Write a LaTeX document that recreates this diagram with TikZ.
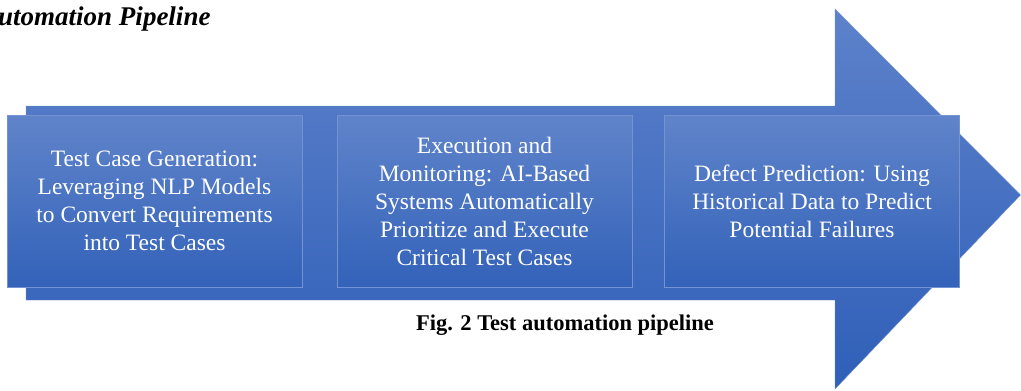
\documentclass[tikz,border=0pt]{standalone}
\usepackage{fontspec}
\setmainfont{Liberation Serif}
\definecolor{arrtop}{HTML}{5E82CB}
\definecolor{arrbot}{HTML}{2F5FB8}
\definecolor{boxtop}{HTML}{6084CA}
\definecolor{boxbot}{HTML}{3362B9}
\definecolor{boxline}{HTML}{7393D2}
\tikzset{
  stagebox/.style={draw=boxline, line width=0.8pt, top color=boxtop, bottom color=boxbot,
    minimum width=295pt, minimum height=172pt, inner sep=0pt, text=white,
    align=center, font=\fontsize{23.5}{28}\selectfont},
  bigarrow/.style={top color=arrtop, bottom color=arrbot, draw=boxline, line width=0.4pt},
}
\begin{document}
\begin{tikzpicture}[x=1pt,y=-1pt]
\useasboundingbox (0,0) rectangle (1021,391);
\path[bigarrow] (26,106) -- (835,106) -- (835,9) -- (1020.5,195) -- (835,389) -- (835,300) -- (26,300) -- cycle;
\node[stagebox] (b1) at (154.5,201) {Test Case Generation:\\Leveraging NLP Models\\to Convert Requirements\\into Test Cases};
\node[stagebox] (b2) at (484.5,201) {Execution and\\Monitoring: AI-Based\\Systems Automatically\\Prioritize and Execute\\Critical Test Cases};
\node[stagebox] (b3) at (812,201) {Defect Prediction: Using\\Historical Data to Predict\\Potential Failures};
\node[anchor=base west, inner sep=0pt, font=\fontsize{27}{30}\selectfont\bfseries\itshape] (title) at (-2,25) {utomation Pipeline};
\node[anchor=base, inner sep=0pt, font=\fontsize{22.5}{26}\selectfont\bfseries] (cap) at (565,330) {Fig. 2 Test automation pipeline};
\end{tikzpicture}
\end{document}
